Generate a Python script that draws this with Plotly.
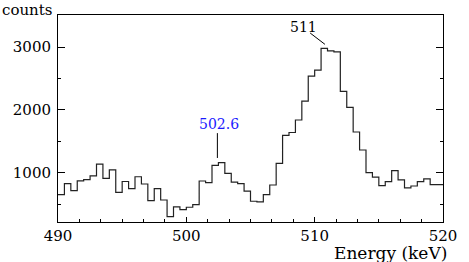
import plotly.graph_objects as go

# Histogram: 0.5 keV bins from 490 to 520 keV
bin_start = 490.0
bin_width = 0.5
counts = [650, 825, 715, 870, 890, 950, 1135, 910, 1045, 685,
          860, 745, 935, 820, 555, 745, 565, 300, 455, 412,
          450, 490, 868, 841, 1115, 1159, 990, 850, 825, 705,
          545, 535, 650, 804, 1149, 1595, 1640, 1839, 2140, 2537,
          2633, 2978, 2938, 2924, 2295, 2040, 1648, 1361, 1000, 930,
          793, 857, 1032, 884, 757, 788, 857, 900, 810, 810]

x_ticks = [490, 500, 510, 520]
y_ticks = [1000, 2000, 3000]

edges = [bin_start + i * bin_width for i in range(len(counts) + 1)]
ys = counts + [counts[-1]]

fig = go.Figure()
fig.add_trace(go.Scatter(x=edges, y=ys, mode="lines", line_shape="hv",
                         line=dict(color="#222222", width=1.2),
                         hoverinfo="skip", showlegend=False))

serif = "DejaVu Serif"

fig.update_layout(
    width=469, height=262,
    margin=dict(l=58, r=17, t=15, b=40),
    plot_bgcolor="white", paper_bgcolor="white",
    font=dict(family=serif, size=15, color="black"),
    xaxis=dict(range=[490, 520], tickvals=x_ticks, ticktext=[str(v) for v in x_ticks],
               ticks="inside", ticklen=5, tickwidth=1, tickcolor="black",
               showline=True, linecolor="black", linewidth=1, mirror=True,
               showgrid=False, zeroline=False,
               minor=dict(tick0=490, dtick=5/3, ticks="inside", ticklen=3,
                          tickcolor="black", showgrid=False),
               tickfont=dict(family=serif, size=15)),
    yaxis=dict(range=[215, 3510], tickvals=y_ticks, ticktext=[str(v) for v in y_ticks],
               ticks="inside", ticklen=7, tickwidth=1, tickcolor="black",
               showline=True, linecolor="black", linewidth=1, mirror="ticks",
               showgrid=False, zeroline=False,
               minor=dict(tick0=0, dtick=500, ticks="inside", ticklen=3,
                          tickcolor="black", showgrid=False),
               tickfont=dict(family=serif, size=15), ticklabelstandoff=3),
)

# Axis titles
fig.add_annotation(text="Energy (keV)", xref="paper", yref="paper", x=1, y=0,
                   xanchor="right", yanchor="middle", xshift=6, yshift=-31, showarrow=False,
                   font=dict(family=serif, size=17))
fig.add_annotation(text="counts", xref="paper", yref="paper", x=0, y=1,
                   xanchor="left", yanchor="middle", xshift=-58, yshift=5, showarrow=False,
                   font=dict(family=serif, size=15))

# Peak labels
fig.add_annotation(text="502.6", x=502.55, y=1774, xref="x", yref="y",
                   showarrow=False, font=dict(family=serif, size=14, color="#1a1aff"))
fig.add_shape(type="line", x0=502.42, x1=502.42, y0=1630, y1=1234,
              xref="x", yref="y", line=dict(color="black", width=1))
fig.add_annotation(text="511", x=509.1, y=3318, xref="x", yref="y",
                   showarrow=False, font=dict(family=serif, size=14, color="black"))
fig.add_shape(type="line", x0=509.65, x1=510.8, y0=3223, y1=3043,
              xref="x", yref="y", line=dict(color="black", width=1))

fig.write_html("out.html", config={"displayModeBar": False},
               post_script="document.body.style.margin='0';")
